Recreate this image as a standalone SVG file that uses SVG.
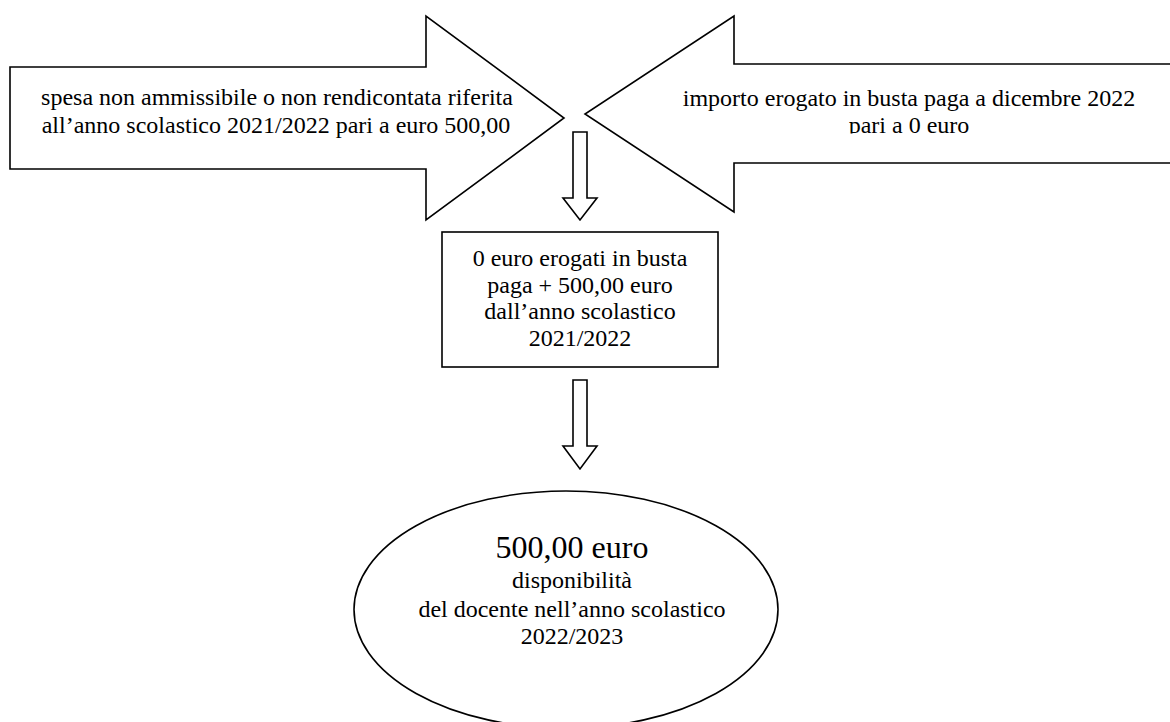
<svg xmlns="http://www.w3.org/2000/svg" width="1170" height="722" viewBox="0 0 1170 722">
  <defs>
    <style>
      .shape { fill: #ffffff; stroke: #000000; stroke-width: 1.6; stroke-linejoin: miter; }
      .txt { font-family: "Liberation Serif", "Times New Roman", serif; font-size: 24px; fill: #000000; text-anchor: middle; }
      .big { font-size: 32px; }
    </style>
    <clipPath id="clipRight">
      <rect x="600" y="60" width="570" height="73.5"/>
    </clipPath>
  </defs>
  <rect x="0" y="0" width="1170" height="722" fill="#ffffff"/>

  <g id="node-left-arrow">
    <polygon class="shape" points="10,67 426,67 426,16 564,118 426,220 426,169 10,169"/>
    <text class="txt" x="277" y="105">spesa non ammissibile o non rendicontata riferita</text>
    <text class="txt" x="276" y="133">all’anno scolastico 2021/2022 pari a euro 500,00</text>
  </g>

  <g id="node-right-arrow">
    <polygon class="shape" points="1175,64 734,64 734,16 585,114 734,212 734,163 1175,163"/>
    <text class="txt" x="909" y="106">importo erogato in busta paga a dicembre 2022</text>
    <text class="txt" x="909" y="133" clip-path="url(#clipRight)">pari a 0 euro</text>
  </g>

  <g id="connectors">
    <polygon class="shape" points="573,132 587,132 587,198 597,198 580,220 563,198 573,198"/>
    <polygon class="shape" points="573,380 587,380 587,446 597,446 580,469 563,446 573,446"/>
  </g>

  <g id="node-box">
    <rect class="shape" x="442" y="232" width="276" height="135"/>
    <text class="txt" x="580" y="266">0 euro erogati in busta</text>
    <text class="txt" x="580" y="293">paga + 500,00 euro</text>
    <text class="txt" x="580" y="319">dall’anno scolastico</text>
    <text class="txt" x="580" y="346">2021/2022</text>
  </g>

  <g id="node-ellipse">
    <ellipse class="shape" cx="566" cy="609.6" rx="212" ry="118.6"/>
    <text class="txt big" x="572" y="558">500,00 euro</text>
    <text class="txt" x="572" y="588">disponibilità</text>
    <text class="txt" x="572" y="617">del docente nell’anno scolastico</text>
    <text class="txt" x="572" y="644">2022/2023</text>
  </g>
</svg>
